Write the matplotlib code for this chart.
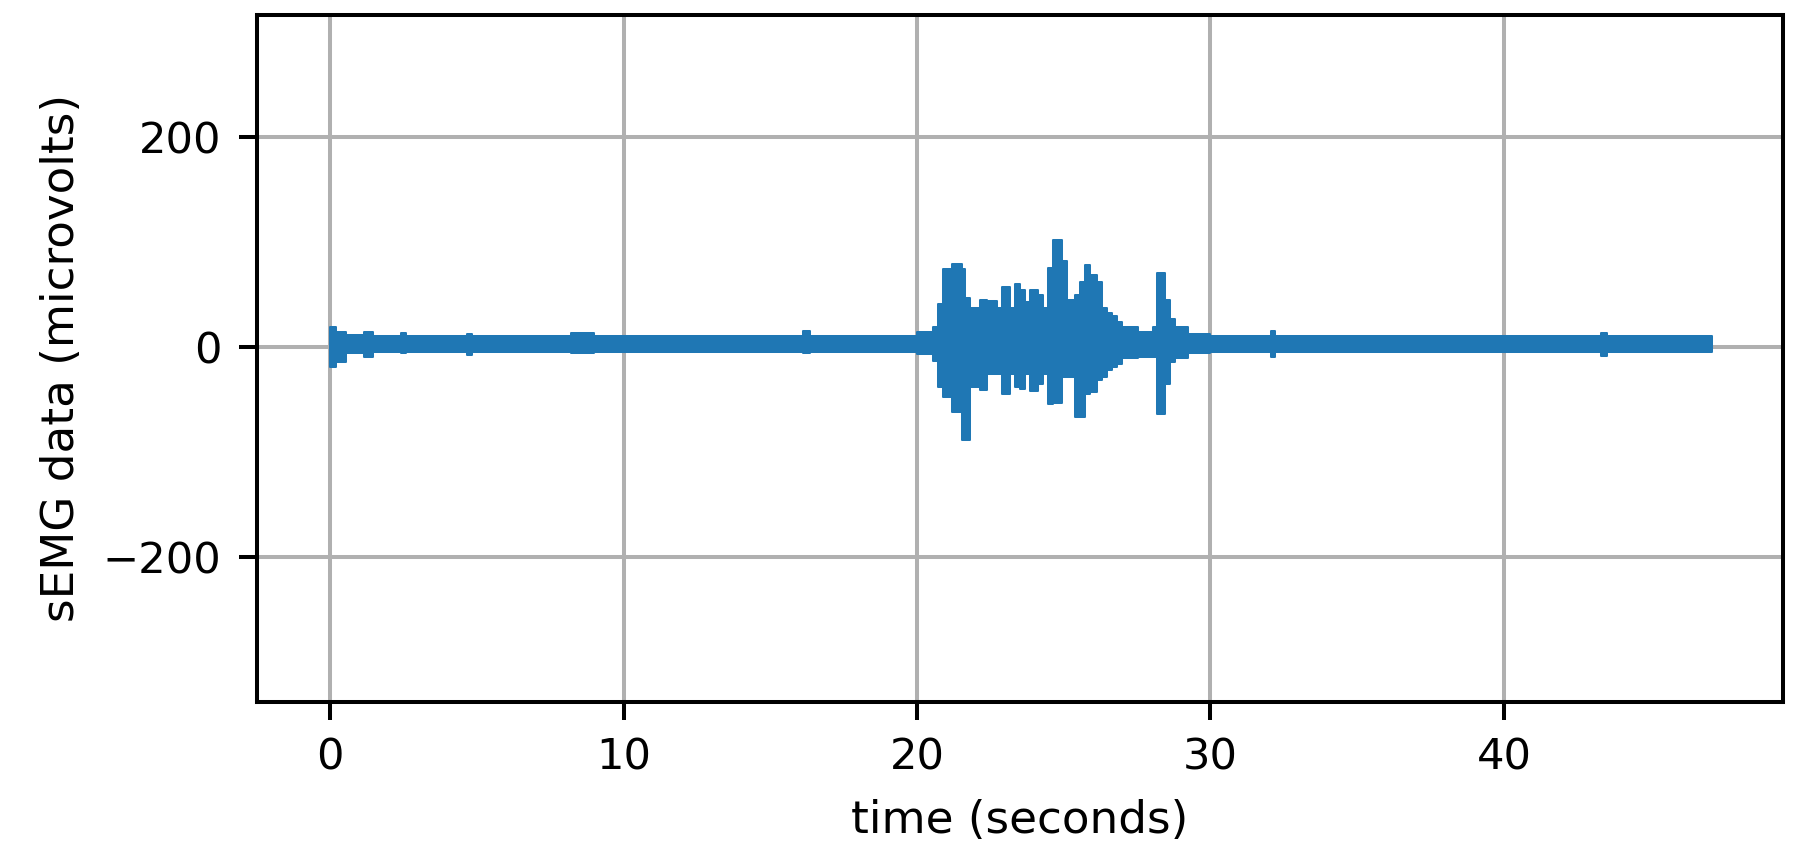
import numpy as np
import matplotlib
matplotlib.use('Agg')
import matplotlib.pyplot as plt

# envelope of the sEMG trace (segment start time, max, min)
seg_start = [0.00, 0.20, 0.55, 1.15, 1.45, 2.40, 2.60, 4.65, 4.85, 8.20, 9.00,
             16.10, 16.35, 20.00, 20.56, 20.73, 20.90, 21.18, 21.52, 21.63, 21.80,
             22.15, 22.40, 22.71, 22.88, 23.17, 23.34, 23.51, 23.68, 23.85, 24.13,
             24.30, 24.47, 24.65, 24.93, 25.10, 25.38, 25.55, 25.72, 25.89, 26.12,
             26.29, 26.46, 26.63, 26.80, 26.97, 27.54, 28.05, 28.17, 28.45, 28.62,
             28.79, 29.25, 30.00, 32.05, 32.20, 43.30, 43.50]
seg_max = [19, 14, 11, 14, 10, 13, 10, 12, 10, 13, 10,
           15, 10, 14, 19, 41, 74, 79, 74, 47, 37,
           45, 44, 37, 57, 37, 60, 54, 43, 54, 49,
           37, 75, 102, 82, 45, 49, 62, 78, 68, 62,
           37, 32, 29, 24, 19, 14, 19, 70, 45, 27,
           19, 12, 10, 15, 10, 13, 10]
seg_min = [-19, -14, -6, -10, -5, -6, -5, -8, -5, -6, -5,
           -6, -5, -7, -13, -38, -48, -62, -89, -89, -38,
           -41, -26, -26, -45, -26, -38, -40, -26, -42, -35,
           -26, -54, -53, -29, -29, -67, -67, -45, -43, -32,
           -29, -22, -19, -16, -11, -10, -10, -64, -35, -14,
           -11, -6, -5, -10, -5, -9, -5]
t_end = 47.1

t = np.append(seg_start, t_end)
hi = np.append(seg_max, seg_max[-1])
lo = np.append(seg_min, seg_min[-1])

fig = plt.figure(figsize=(1808/362, 859/362), dpi=362)
ax = fig.add_subplot(111)
fig.subplots_adjust(left=0.142, right=0.986, top=0.9825, bottom=0.183)

ax.fill_between(t, lo, hi, step='post', color='#1f77b4', linewidth=0.4,
                edgecolor='#1f77b4', zorder=2)

ax.set_xlim(-2.5, 49.5)
ax.set_ylim(-338, 316)
ax.set_yticks([-200, 0, 200])
ax.set_xticks([0, 10, 20, 30, 40])
ax.tick_params(labelsize=8.6)
ax.grid(True, zorder=0)
ax.set_xlabel('time (seconds)', fontsize=9)
ax.set_ylabel('sEMG data (microvolts)', fontsize=9)

fig.savefig('out.png', dpi=362)
